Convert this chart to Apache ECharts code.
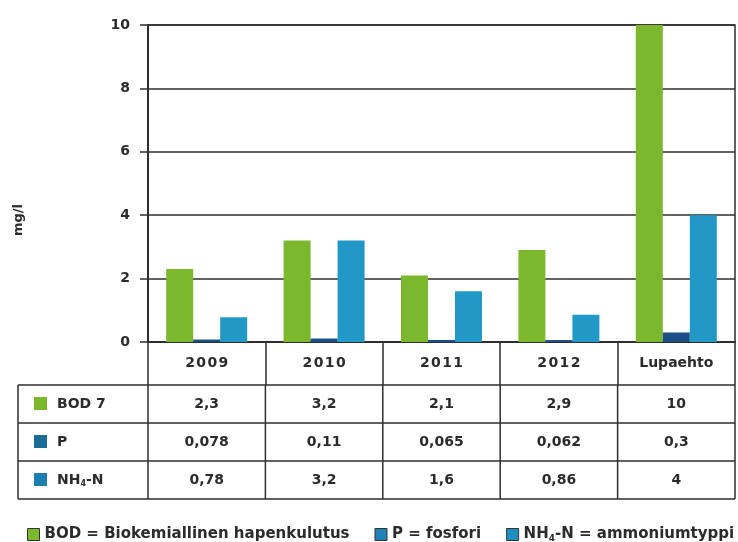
<!DOCTYPE html>
<html>
<head>
<meta charset="utf-8">
<script src="https://cdn.jsdelivr.net/npm/echarts@6/dist/echarts.min.js"></script>
<style>
  html, body { margin: 0; padding: 0; background: #fff; }
  #main { width: 738px; height: 542px; }
</style>
</head>
<body>
<div id="main"></div>
<script>
// data
var categories = ['2009', '2010', '2011', '2012', 'Lupaehto'];
var bodValues = [2.3, 3.2, 2.1, 2.9, 10];
var pValues = [0.078, 0.11, 0.065, 0.062, 0.3];
var nh4Values = [0.78, 3.2, 1.6, 0.86, 4];
var yTicks = [0, 2, 4, 6, 8, 10];
var rowLabels = ['BOD 7', 'P', 'NH4-N'];

var GREEN = '#7bb82e', PDARK = '#1b4f86', BLUE = '#2298c6';
var LINE = '#2e2e2e', TXT = '#2b2b2b';
var FONT = 'DejaVu Sans';

var dom = document.getElementById('main');
var myChart = echarts.init(dom);

// layout of the table under the plot
var gridLeft = 148, gridRight = 735, tableLeft = 18;
var rowY = [385, 423, 461, 499];

function fmt(v) {
    return String(v).replace('.', ',');
}

var option = {
    animation: false,
    grid: {
        left: gridLeft,
        right: 738 - gridRight,
        top: 25,
        bottom: 542 - 342,
        show: true,
        borderColor: LINE,
        borderWidth: 1.5
    },
    legend: {
        left: 22,
        top: 522,
        width: 1000,
        itemWidth: 12,
        itemHeight: 12,
        itemGap: 25,
        icon: 'rect',
        itemStyle: { borderColor: '#333', borderWidth: 1 },
        textStyle: {
            fontFamily: FONT, fontSize: 15, color: TXT,
            rich: {
                a: { fontFamily: FONT, fontSize: 15, fontWeight: 'bold', color: TXT },
                s: { fontFamily: FONT, fontSize: 9, fontWeight: 'bold', color: TXT, padding: [8, 0, 0, 0] }
            }
        },
        formatter: function (name) {
            if (name.indexOf('NH4') === 0) {
                return '{a|NH}{s|4}{a|' + name.slice(3) + '}';
            }
            return '{a|' + name + '}';
        },
        data: [
            { name: 'BOD = Biokemiallinen hapenkulutus' },
            { name: 'P = fosfori', itemStyle: { color: '#1f80b6' } },
            { name: 'NH4-N = ammoniumtyppi', itemStyle: { color: '#1f8fc2' } }
        ]
    },
    xAxis: {
        type: 'category',
        data: categories,
        axisLine: { show: true, lineStyle: { color: LINE, width: 2 } },
        axisTick: { show: true, interval: 0, length: 43, lineStyle: { color: LINE, width: 1.5 } },
        axisLabel: {
            margin: 14, interval: 0, color: TXT, fontFamily: FONT, fontSize: 14, fontWeight: 'bold',
            formatter: function (v) {
                return /^\d+$/.test(v) ? v.split('').join('\u200a') : v;
            }
        }
    },
    yAxis: {
        type: 'value',
        min: 0,
        max: 10,
        interval: 2,
        axisLine: { show: true, lineStyle: { color: LINE, width: 2 } },
        axisTick: { show: true, length: 8, lineStyle: { color: LINE, width: 1.5 } },
        axisLabel: {
            margin: 18, color: TXT, fontFamily: FONT, fontSize: 14, fontWeight: 'bold',
            formatter: function (v) { return yTicks.indexOf(v) >= 0 ? String(v) : ''; }
        },
        splitLine: { show: true, lineStyle: { color: LINE, width: 1.5 } }
    },
    series: [
        { name: 'BOD = Biokemiallinen hapenkulutus', type: 'bar', data: bodValues, barWidth: 27, barGap: '0%', itemStyle: { color: GREEN } },
        { name: 'P = fosfori', type: 'bar', data: pValues, barWidth: 27, barGap: '0%', itemStyle: { color: PDARK } },
        { name: 'NH4-N = ammoniumtyppi', type: 'bar', data: nh4Values, barWidth: 27, barGap: '0%', itemStyle: { color: BLUE } }
    ]
};

myChart.setOption(option, true);

// table below the axis, built from the same data and the axis' own positions
var tableRows = [bodValues, pValues, nh4Values];
var rowColors = [GREEN, '#1a6b96', '#1a7fb0'];
var colW = (gridRight - gridLeft) / categories.length;
var graphics = [];

rowY.forEach(function (y) {
    graphics.push({ type: 'line', shape: { x1: tableLeft, y1: y, x2: gridRight, y2: y }, style: { stroke: LINE, lineWidth: 1.5 } });
});
var xs = [tableLeft];
for (var i = 0; i <= categories.length; i++) xs.push(gridLeft + i * colW);
xs.forEach(function (x) {
    graphics.push({ type: 'line', shape: { x1: x, y1: rowY[0], x2: x, y2: rowY[rowY.length - 1] }, style: { stroke: LINE, lineWidth: 1.5 } });
});

tableRows.forEach(function (vals, r) {
    var cy = (rowY[r] + rowY[r + 1]) / 2;
    graphics.push({ type: 'rect', shape: { x: 34, y: cy - 7, width: 13, height: 13 }, style: { fill: rowColors[r] } });
    var label = rowLabels[r];
    graphics.push({
        type: 'text', x: 57, y: cy,
        style: {
            text: label === 'NH4-N' ? '{a|NH}{s|4}{a|-N}' : '{a|' + label + '}',
            verticalAlign: 'middle', align: 'left',
            rich: {
                a: { fontFamily: FONT, fontSize: 14, fontWeight: 'bold', fill: TXT },
                s: { fontFamily: FONT, fontSize: 8, fontWeight: 'bold', fill: TXT, padding: [8, 0, 0, 0] }
            }
        }
    });
    vals.forEach(function (v, c) {
        var cx = myChart.convertToPixel({ xAxisIndex: 0 }, categories[c]);
        graphics.push({
            type: 'text', x: cx, y: cy,
            style: { text: fmt(v), align: 'center', verticalAlign: 'middle', fontFamily: FONT, fontSize: 14, fontWeight: 'bold', fill: TXT }
        });
    });
});

graphics.push({
    type: 'text', x: 19, y: 220, rotation: Math.PI / 2,
    style: { text: 'mg/l', align: 'center', verticalAlign: 'middle', fontFamily: FONT, fontSize: 13, fontWeight: 'bold', fill: TXT }
});

myChart.setOption({ graphic: graphics });
</script>
</body>
</html>
